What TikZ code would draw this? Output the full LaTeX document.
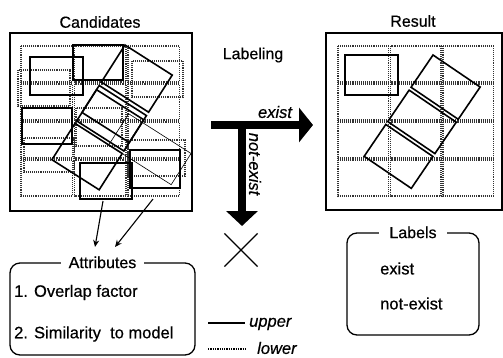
\documentclass[tikz,border=0pt]{standalone}
\usepackage{fontspec}
\setmainfont{Liberation Sans}[FakeBold=0.5]
\usetikzlibrary{arrows.meta,shapes.misc}

\begin{document}
\begin{tikzpicture}[x=1pt,y=-1pt,
  cell/.style={densely dotted, line width=1.1pt, black!80},
  upperbox/.style={line width=1.6pt},
  lowerbox/.style={densely dotted, line width=1.1pt, black!80},
  panel/.style={line width=1.3pt},
  ttl/.style={font=\fontsize{16}{19}\selectfont},
  item/.style={font=\fontsize{16.5}{19}\selectfont, anchor=west, inner sep=0pt},
  lbl/.style={font=\fontsize{16.5}{19}\selectfont\itshape, inner sep=0pt},
  frame/.style={draw, line width=1.3pt, rounded corners=10pt}]
\useasboundingbox (0,0) rectangle (503,357);

\node[ttl] (candtitle) at (100,22) {Candidates};
\draw[panel] (10,33) rectangle (192,211);
\foreach \i in {0,1,2}
  \foreach \j in {0,1,2,3}
    \draw[cell] ({20+53.5*\i+1},{45+38*\j+1}) rectangle ({20+53.5*(\i+1)-1},{45+38*(\j+1)-1});
\draw[lowerbox] (18,70) rectangle (70,106);
\draw[lowerbox] (132,61) rectangle (183,97);
\draw[lowerbox] (24,138) rectangle (74,172);
\draw[lowerbox] (128,140) rectangle (185,176);
\draw[lowerbox] (76,108) rectangle (122,146);
\draw[upperbox] (30,57) rectangle (83,95);
\draw[upperbox] (73,45) rectangle (123,80);
\draw[upperbox] (22,108) rectangle (72,144);
\draw[upperbox] (80,163) rectangle (132,199);
\draw[upperbox] (130,150) rectangle (180,188);
\begin{scope}[shift={(125,45)},rotate=-32.5]
  \draw[upperbox] (0,0) rectangle (56,44);
  \draw[upperbox] (0,48) rectangle (56,90);
  \draw[upperbox] (0,53) rectangle (56,80);
  \draw[upperbox] (0,93) rectangle (56,136);
  \draw[line width=0.6pt] (40,56) rectangle (114,93);
\end{scope}

\node[ttl] (restitle) at (413,21) {Result};
\draw[panel] (326,33) rectangle (502,210);
\foreach \i in {0,1,2}
  \foreach \j in {0,1,2,3}
    \draw[cell] ({337+52.5*\i+1},{45+38*\j+1}) rectangle ({337+52.5*(\i+1)-1},{45+38*(\j+1)-1});
\draw[upperbox] (345,55) rectangle (398,95);
\begin{scope}[shift={(433,55)},rotate=-34.2]
  \draw[upperbox] (0,0) rectangle (57,39);
  \draw[upperbox] (0,42.5) rectangle (57,80.5);
  \draw[upperbox] (0,84) rectangle (57,122.5);
\end{scope}

\node[ttl] (labeling) at (253,55) {Labeling};
\coordinate (split) at (211,125);
\coordinate (toresult) at (313,125);
\coordinate (drop) at (242,121);
\coordinate (toreject) at (242,226);
\draw[line width=8pt,-{Triangle[length=14pt,width=34pt]}] (split) -- (toresult);
\draw[line width=8pt,-{Triangle[length=15pt,width=31pt]}] (drop) -- (toreject);
\node[lbl] (existlbl) at (275,112) {exist};
\node[lbl, rotate=-90] (notexistlbl) at (255,164) {not-exist};
\node[cross out, draw, line width=1.2pt, minimum size=32pt, inner sep=0pt] (reject) at (241,250) {};

\node[frame, minimum width=185pt, minimum height=92pt] (attrbox) at (102.5,309) {};
\node[ttl, fill=white, inner xsep=8pt] (attrtitle) at (attrbox.north) {Attributes};
\node[item] (overlap) at (14,292.5) {1. Overlap factor};
\node[item] (similar) at (14,334) {2. Similarity~ to model};
\coordinate (fromD) at (103,201);
\coordinate (fromE) at (153,199);
\coordinate (attrin1) at (95,247);
\coordinate (attrin2) at (115,247);
\draw[line width=1.1pt, -{Stealth[length=7pt,width=6pt]}] (fromD) -- (attrin1);
\draw[line width=1.1pt, -{Stealth[length=7pt,width=6pt]}] (fromE) -- (attrin2);

\node[frame, minimum width=132pt, minimum height=102pt] (labelbox) at (413,284) {};
\node[ttl, fill=white, inner xsep=10pt] (labeltitle) at (labelbox.north) {Labels};
\node[item] (existitem) at (380,268.5) {exist};
\node[item] (notexistitem) at (380,303.5) {not-exist};

\draw[line width=1.3pt] (208,323) -- (245,323);
\draw[densely dotted, line width=1.3pt] (208,349) -- (245,349);
\node[lbl, anchor=west] (upperlbl) at (249,324) {upper};
\node[lbl, anchor=west] (lowerlbl) at (257,348) {lower};
\end{tikzpicture}
\end{document}
